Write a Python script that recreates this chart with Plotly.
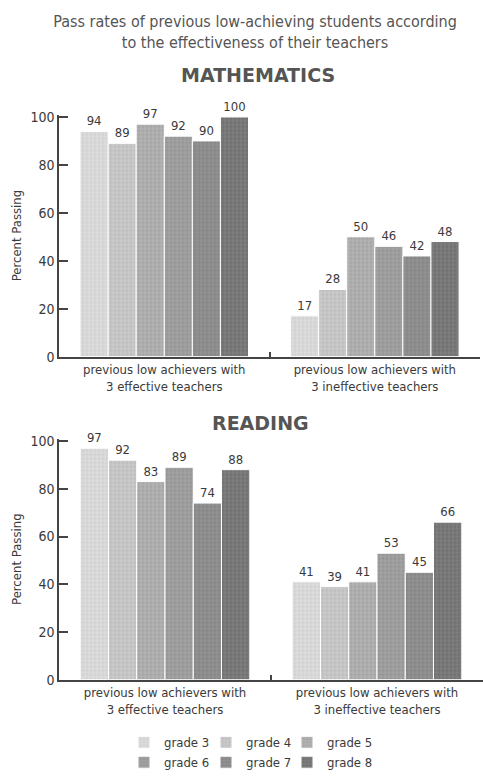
import plotly.graph_objects as go
from plotly.subplots import make_subplots

# Data
groups = ["previous low achievers with<br>3 effective teachers",
          "previous low achievers with<br>3 ineffective teachers"]
grades = ["grade 3", "grade 4", "grade 5", "grade 6", "grade 7", "grade 8"]
math_effective = [94, 89, 97, 92, 90, 100]
math_ineffective = [17, 28, 50, 46, 42, 48]
reading_effective = [97, 92, 83, 89, 74, 88]
reading_ineffective = [41, 39, 41, 53, 45, 66]
y_ticks = [0, 20, 40, 60, 80, 100]

grade_colors = ["#d2d2d2", "#bebebe", "#a6a6a6", "#969696", "#878787", "#717171"]
dot_colors = ["#ececec", "#dcdcdc", "#c4c4c4", "#b2b2b2", "#a2a2a2", "#8c8c8c"]

NARROW = "Liberation Sans Narrow, DejaVu Sans Condensed, Arial Narrow, sans-serif"
TEXT = "#3a3a3a"
W, H = 483, 780


def py(p):
    """Convert a pixel row (from the top) to paper coordinates."""
    return 1 - p / H


# Legend laid out as three columns of two grades each
legend_ids = ["legend", "legend2", "legend3"]

fig = make_subplots(rows=2, cols=1)

for row, (eff, ineff) in enumerate([(math_effective, math_ineffective),
                                    (reading_effective, reading_ineffective)], start=1):
    for i, g in enumerate(grades):
        vals = [eff[i], ineff[i]]
        fig.add_trace(go.Bar(
            x=groups, y=vals, name=g,
            text=[str(v) for v in vals], textposition="outside",
            textfont=dict(family=NARROW, size=13, color=TEXT),
            cliponaxis=False,
            marker=dict(color=grade_colors[i],
                        line=dict(color="white", width=1),
                        pattern=dict(shape="+", size=4, solidity=0.25,
                                     fgcolor=dot_colors[i], fgopacity=0.9)),
            showlegend=(row == 1),
            legend=legend_ids[i % 3],
            legendgroup=g,
        ), row=row, col=1)

# Plot-area placement
x0 = 59 / W
fig.layout.xaxis.domain = [x0, 0.994]
fig.layout.yaxis.domain = [py(357), py(357 - 101 * 2.44)]
fig.layout.xaxis2.domain = [x0, 1.0]
fig.layout.yaxis2.domain = [py(686), py(686 - 101 * 2.43)]

axis_font = dict(family=NARROW, size=14, color=TEXT)
for ax in ["xaxis", "xaxis2"]:
    fig.layout[ax].update(
        showline=True, linecolor="#444", linewidth=1.5,
        ticks="inside", ticklen=5, tickcolor="#444", tickwidth=1.5,
        tickson="boundaries", showgrid=False, zeroline=False,
        tickfont=dict(family=NARROW, size=13, color=TEXT),
    )
for ax in ["yaxis", "yaxis2"]:
    fig.layout[ax].update(
        range=[0, 101], tickvals=y_ticks, showline=True, linecolor="#444",
        linewidth=1.5, ticks="inside", ticklen=9, tickcolor="#444", tickwidth=1.5,
        showgrid=False, zeroline=False, tickfont=axis_font,
        title=dict(text="Percent Passing", font=dict(family=NARROW, size=13, color=TEXT),
                   standoff=6),
    )

legend_common = dict(orientation="v", xanchor="left", yanchor="middle",
                     y=py(760), tracegroupgap=0,
                     font=dict(family=NARROW, size=13, color=TEXT),
                     traceorder="normal", bgcolor="rgba(0,0,0,0)")
legend_x = [124, 206, 287]

fig.update_layout(
    width=W, height=H,
    margin=dict(l=0, r=0, t=0, b=0),
    paper_bgcolor="white", plot_bgcolor="white",
    barmode="group", bargap=0.2, bargroupgap=0,
    font=dict(family=NARROW, color=TEXT),
    title=dict(text="Pass rates of previous low-achieving students according<br>to the effectiveness of their teachers",
               x=0.528, xanchor="center", y=py(27), yanchor="middle",
               font=dict(family=NARROW, size=16, color="#555")),
    annotations=[
        dict(text="<b>MATHEMATICS</b>", x=0.535, xref="paper", y=py(70), yref="paper",
             yanchor="middle", showarrow=False,
             font=dict(family="DejaVu Sans", size=19, color="#555")),
        dict(text="<b>READING</b>", x=0.54, xref="paper", y=py(425), yref="paper",
             yanchor="middle", showarrow=False,
             font=dict(family="DejaVu Sans", size=19, color="#555")),
    ],
)
for lid, lx in zip(legend_ids, legend_x):
    fig.layout[lid] = dict(**legend_common, x=lx / W)

fig.write_html("out.html")
